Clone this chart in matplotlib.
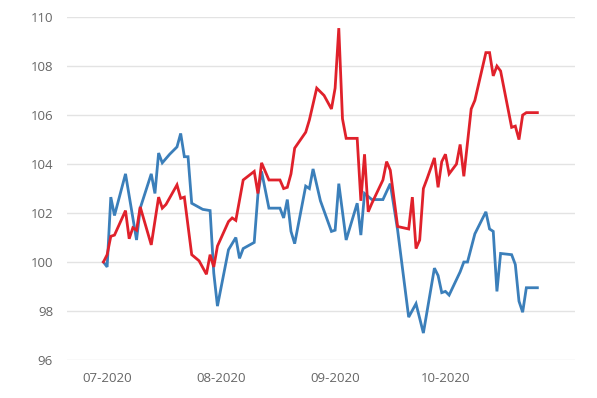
import matplotlib
matplotlib.use("Agg")
import matplotlib.pyplot as plt
import matplotlib.dates as mdates
import pandas as pd

# blue series (date, value)
blue_dates = ["2020-06-30", "2020-07-01", "2020-07-02", "2020-07-03", "2020-07-06",
              "2020-07-09", "2020-07-10", "2020-07-13", "2020-07-14", "2020-07-15",
              "2020-07-16", "2020-07-18", "2020-07-20", "2020-07-21", "2020-07-22",
              "2020-07-23", "2020-07-24", "2020-07-27", "2020-07-29", "2020-07-30",
              "2020-07-31", "2020-08-03", "2020-08-05", "2020-08-06", "2020-08-07",
              "2020-08-10", "2020-08-11", "2020-08-12", "2020-08-14", "2020-08-17",
              "2020-08-18", "2020-08-19", "2020-08-20", "2020-08-21", "2020-08-24",
              "2020-08-25", "2020-08-26", "2020-08-28", "2020-08-31", "2020-09-01",
              "2020-09-02", "2020-09-04", "2020-09-07", "2020-09-08", "2020-09-09",
              "2020-09-11", "2020-09-14", "2020-09-16", "2020-09-18", "2020-09-21",
              "2020-09-23", "2020-09-25", "2020-09-28", "2020-09-29", "2020-09-30",
              "2020-10-01", "2020-10-02", "2020-10-05", "2020-10-06", "2020-10-07",
              "2020-10-09", "2020-10-12", "2020-10-13", "2020-10-14", "2020-10-15",
              "2020-10-16", "2020-10-19", "2020-10-20", "2020-10-21", "2020-10-22",
              "2020-10-23", "2020-10-26"]
blue_vals = [100.0, 99.8, 102.65, 101.9, 103.6,
             100.9, 102.2, 103.6, 102.8, 104.45,
             104.05, 104.4, 104.7, 105.25, 104.3,
             104.3, 102.4, 102.15, 102.1, 99.55,
             98.2, 100.5, 101.0, 100.15, 100.55,
             100.8, 102.75, 103.7, 102.2, 102.2,
             101.8, 102.55, 101.25, 100.75, 103.1,
             103.0, 103.8, 102.5, 101.25, 101.3,
             103.2, 100.9, 102.4, 101.1, 102.8,
             102.55, 102.55, 103.2, 101.3, 97.75,
             98.3, 97.1, 99.75, 99.45, 98.75,
             98.8, 98.65, 99.6, 100.0, 100.0,
             101.15, 102.05, 101.35, 101.25, 98.8,
             100.35, 100.3, 99.9, 98.4, 97.95,
             98.95, 98.95]

# red series
red_dates = ["2020-06-30", "2020-07-01", "2020-07-02", "2020-07-03", "2020-07-06",
             "2020-07-07", "2020-07-08", "2020-07-09", "2020-07-10", "2020-07-13",
             "2020-07-15", "2020-07-16", "2020-07-17", "2020-07-20", "2020-07-21",
             "2020-07-22", "2020-07-24", "2020-07-26", "2020-07-28", "2020-07-29",
             "2020-07-30", "2020-07-31", "2020-08-03", "2020-08-04", "2020-08-05",
             "2020-08-07", "2020-08-10", "2020-08-11", "2020-08-12", "2020-08-14",
             "2020-08-17", "2020-08-18", "2020-08-19", "2020-08-20", "2020-08-21",
             "2020-08-24", "2020-08-25", "2020-08-27", "2020-08-29", "2020-08-31",
             "2020-09-01", "2020-09-02", "2020-09-03", "2020-09-04", "2020-09-07",
             "2020-09-08", "2020-09-09", "2020-09-10", "2020-09-11", "2020-09-14",
             "2020-09-15", "2020-09-16", "2020-09-18", "2020-09-21", "2020-09-22",
             "2020-09-23", "2020-09-24", "2020-09-25", "2020-09-26", "2020-09-28",
             "2020-09-29", "2020-09-30", "2020-10-01", "2020-10-02", "2020-10-04",
             "2020-10-05", "2020-10-06", "2020-10-08", "2020-10-09", "2020-10-12",
             "2020-10-13", "2020-10-14", "2020-10-15", "2020-10-16", "2020-10-19",
             "2020-10-20", "2020-10-21", "2020-10-22", "2020-10-23", "2020-10-26"]
red_vals = [100.0, 100.3, 101.05, 101.1, 102.1,
            100.95, 101.4, 101.3, 102.25, 100.7,
            102.65, 102.2, 102.35, 103.15, 102.6,
            102.65, 100.3, 100.05, 99.5, 100.3,
            99.8, 100.65, 101.65, 101.8, 101.7,
            103.35, 103.7, 102.8, 104.05, 103.35,
            103.35, 103.0, 103.05, 103.6, 104.65,
            105.3, 105.8, 107.1, 106.8, 106.25,
            107.1, 109.55, 105.85, 105.05, 105.05,
            102.5, 104.4, 102.05, 102.4, 103.35,
            104.1, 103.75, 101.45, 101.35, 102.65,
            100.55, 100.9, 103.0, 103.4, 104.25,
            103.05, 104.1, 104.4, 103.6, 104.0,
            104.8, 103.5, 106.25, 106.6, 108.55,
            108.55, 107.6, 108.0, 107.8, 105.5,
            105.55, 105.0, 106.0, 106.1, 106.1]

y_ticks = [96, 98, 100, 102, 104, 106, 108, 110]
x_ticks = ["2020-07-01", "2020-08-01", "2020-09-01", "2020-10-01"]

plt.rcParams['font.family'] = ['Open Sans', 'DejaVu Sans']

fig = plt.figure(figsize=(5.97, 3.98), dpi=100)
ax = fig.add_axes([0.1122, 0.0955, 0.8508, 0.8615])

ax.plot(pd.to_datetime(blue_dates), blue_vals, color='#3b7fba', lw=2.0, solid_joinstyle='miter')
ax.plot(pd.to_datetime(red_dates), red_vals, color='#e0212b', lw=2.0, solid_joinstyle='miter')

ax.set_ylim(96, 110)
ax.set_yticks(y_ticks)
ax.set_xlim(pd.Timestamp("2020-06-20 02:00"), pd.Timestamp("2020-11-05 05:00"))
ax.set_xticks(pd.to_datetime(x_ticks))
ax.xaxis.set_major_formatter(mdates.DateFormatter("%m-%Y"))

ax.grid(axis='y', color='#e3e3e3', lw=1)
ax.set_axisbelow(True)
for s in ax.spines.values():
    s.set_visible(False)
ax.tick_params(length=0, labelsize=9.5, colors='#666666')
ax.tick_params(axis='y', pad=10)
ax.tick_params(axis='x', pad=9)

fig.savefig("out.png", dpi=100)
